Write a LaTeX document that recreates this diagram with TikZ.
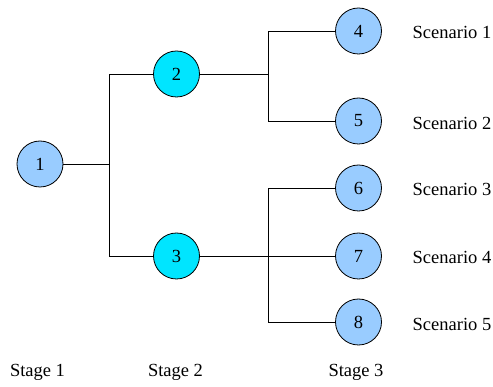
\documentclass[tikz,border=0pt]{standalone}
\usepackage{fontspec}
\setmainfont{Liberation Serif}
\definecolor{leafblue}{RGB}{153,204,255}
\definecolor{midcyan}{RGB}{0,229,255}
\begin{document}
\begin{tikzpicture}[x=1pt,y=-1pt,
  stnode/.style={circle,draw=black,line width=0.8pt,minimum size=46pt,inner sep=0pt,font=\fontsize{18.5pt}{22pt}\selectfont},
  leaf/.style={stnode,fill=leafblue},
  mid/.style={stnode,fill=midcyan},
  lbl/.style={font=\fontsize{18.5pt}{22pt}\selectfont,inner sep=0pt},
  conn/.style={draw=black,line width=0.8pt}]
\useasboundingbox (0,0) rectangle (493,387);
\node[leaf] (n1) at (40,164) {1};
\node[mid] (n2) at (176.5,74) {2};
\node[mid] (n3) at (176.5,256) {3};
\node[leaf] (n4) at (358.5,31) {4};
\node[leaf] (n5) at (358.5,121) {5};
\node[leaf] (n6) at (358.5,188) {6};
\node[leaf] (n7) at (358.5,256) {7};
\node[leaf] (n8) at (358.5,322) {8};
\coordinate (j1) at (109,164);
\coordinate (j2) at (268,74);
\coordinate (j3) at (268,256);
\draw[conn] (n1) -- (j1);
\draw[conn] (j1) |- (n2);
\draw[conn] (j1) |- (n3);
\draw[conn] (n2) -- (j2);
\draw[conn] (j2) |- (n4);
\draw[conn] (j2) |- (n5);
\draw[conn] (n3) -- (j3);
\draw[conn] (j3) -- (n7);
\draw[conn] (j3) |- (n6);
\draw[conn] (j3) |- (n8);
\node[lbl] (s1) at (452,32) {Scenario 1};
\node[lbl] (s2) at (452,123) {Scenario 2};
\node[lbl] (s3) at (452,189) {Scenario 3};
\node[lbl] (s4) at (452,257) {Scenario 4};
\node[lbl] (s5) at (452,324) {Scenario 5};
\node[lbl] (g1) at (37.5,372) {Stage 1};
\node[lbl] (g2) at (175.5,372) {Stage 2};
\node[lbl] (g3) at (356,372) {Stage 3};
\end{tikzpicture}
\end{document}
